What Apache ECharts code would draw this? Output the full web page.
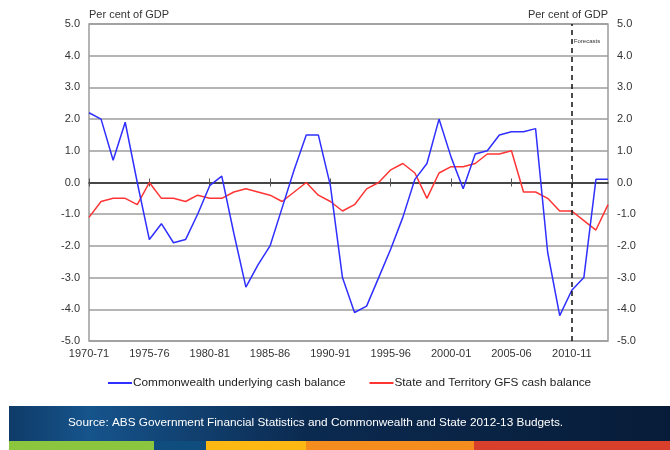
<!DOCTYPE html>
<html>
<head>
<meta charset="utf-8">
<script src="https://cdn.jsdelivr.net/npm/echarts@6/dist/echarts.min.js"></script>
<style>
  html, body { margin: 0; padding: 0; background: #fff; }
  #chart { width: 670px; height: 450px; }
</style>
</head>
<body>
<div id="chart"></div>
<script>
const years = [
  "1970-71", "1971-72", "1972-73", "1973-74", "1974-75", "1975-76", "1976-77", "1977-78", "1978-79", "1979-80",
  "1980-81", "1981-82", "1982-83", "1983-84", "1984-85", "1985-86", "1986-87", "1987-88", "1988-89", "1989-90",
  "1990-91", "1991-92", "1992-93", "1993-94", "1994-95", "1995-96", "1996-97", "1997-98", "1998-99", "1999-00",
  "2000-01", "2001-02", "2002-03", "2003-04", "2004-05", "2005-06", "2006-07", "2007-08", "2008-09", "2009-10",
  "2010-11", "2011-12", "2012-13", "2013-14"
];

const commonwealth = [
  2.2, 2.0, 0.7, 1.9, 0.0, -1.8, -1.3, -1.9, -1.8, -1.0,
  -0.1, 0.2, -1.6, -3.3, -2.6, -2.0, -0.8, 0.4, 1.5, 1.5,
  -0.1, -3.0, -4.1, -3.9, -3.0, -2.1, -1.1, 0.1, 0.6, 2.0,
  0.8, -0.2, 0.9, 1.0, 1.5, 1.6, 1.6, 1.7, -2.2, -4.2,
  -3.4, -3.0, 0.1, 0.1
];

const stateTerritory = [
  -1.1, -0.6, -0.5, -0.5, -0.7, 0.0, -0.5, -0.5, -0.6, -0.4,
  -0.5, -0.5, -0.3, -0.2, -0.3, -0.4, -0.6, -0.3, 0.0, -0.4,
  -0.6, -0.9, -0.7, -0.2, 0.0, 0.4, 0.6, 0.3, -0.5, 0.3,
  0.5, 0.5, 0.6, 0.9, 0.9, 1.0, -0.3, -0.3, -0.5, -0.9,
  -0.9, -1.2, -1.5, -0.7
];

const forecastStart = "2010-11";
const seriesNames = ["Commonwealth underlying cash balance", "State and Territory GFS cash balance"];
const sourceNote = "Source: ABS Government Financial Statistics and Commonwealth and State 2012-13 Budgets.";

const chart = echarts.init(document.getElementById("chart"));
const font = "Liberation Sans, Arial, sans-serif";
const labelColor = "#333";

const hiddenCatAxis = (extra) => Object.assign({
  type: "category",
  data: years,
  boundaryGap: false,
  position: "bottom",
  axisLabel: { show: false },
  splitLine: { show: false }
}, extra);

const valueAxis = (side) => ({
  type: "value",
  position: side,
  min: -5,
  max: 5,
  interval: 1,
  name: "Per cent of GDP",
  nameLocation: "end",
  nameGap: 4,
  nameTextStyle: {
    color: labelColor, fontSize: 11, fontFamily: font,
    align: side === "left" ? "left" : "right"
  },
  axisLine: { show: false },
  axisTick: { show: false },
  axisLabel: {
    color: labelColor, fontSize: 11, fontFamily: font, margin: 9,
    formatter: (v) => v.toFixed(1)
  },
  splitLine: side === "left"
    ? { show: true, lineStyle: { color: "#9c9c9c", width: 1.5 } }
    : { show: false }
});

chart.setOption({
  backgroundColor: "#fff",
  animation: false,
  textStyle: { fontFamily: font },
  grid: {
    left: 89, right: 62, top: 24, bottom: 109,
    show: true, borderColor: "#9c9c9c", borderWidth: 1.5, backgroundColor: "#fff"
  },
  legend: {
    left: 103,
    top: 372,
    itemWidth: 24,
    itemHeight: 2,
    itemGap: 24,
    icon: "rect",
    textStyle: { color: "#222", fontSize: 11.8, fontFamily: font, padding: [0, 0, 0, -4] },
    data: seriesNames
  },
  xAxis: [
    {
      type: "category",
      data: years,
      boundaryGap: false,
      position: "bottom",
      axisLine: { show: false, onZero: false },
      axisTick: { show: false },
      axisLabel: { color: labelColor, fontSize: 11, fontFamily: font, interval: 4, margin: 7 },
      splitLine: { show: false }
    },
    hiddenCatAxis({
      axisLine: { show: true, onZero: true, onZeroAxisIndex: 0, lineStyle: { color: "#222", width: 1.5 } },
      axisTick: { show: true, interval: 4, length: 4, inside: false, lineStyle: { color: "#555" } }
    }),
    hiddenCatAxis({
      axisLine: { show: false, onZero: true, onZeroAxisIndex: 0 },
      axisTick: { show: true, interval: 4, length: 4, inside: true, lineStyle: { color: "#555" } }
    })
  ],
  yAxis: [valueAxis("left"), valueAxis("right")],
  series: [
    {
      name: seriesNames[0],
      type: "line",
      data: commonwealth,
      symbol: "none",
      lineStyle: { color: "#2f2fff", width: 1.5 },
      itemStyle: { color: "#2f2fff" },
      z: 3,
      markLine: {
        silent: true,
        symbol: "none",
        label: { show: false },
        lineStyle: { color: "#111", width: 1.5, type: [5, 4] },
        data: [{ xAxis: forecastStart }]
      },
      markPoint: {
        silent: true,
        symbol: "circle",
        symbolSize: 0,
        label: {
          show: true, position: "right", distance: 2,
          formatter: "Forecasts", fontSize: 6, color: "#333", fontFamily: font
        },
        data: [{ coord: [forecastStart, 4.45] }]
      }
    },
    {
      name: seriesNames[1],
      type: "line",
      data: stateTerritory,
      symbol: "none",
      lineStyle: { color: "#ff3434", width: 1.5 },
      itemStyle: { color: "#ff3434" },
      z: 2
    }
  ],
  graphic: [
    {
      type: "rect",
      shape: { x: 9, y: 406, width: 661, height: 35 },
      style: {
        fill: new echarts.graphic.LinearGradient(0, 0, 1, 0, [
          { offset: 0, color: "#0f3b68" },
          { offset: 0.12, color: "#16548c" },
          { offset: 0.45, color: "#0b2a50" },
          { offset: 1, color: "#071c38" }
        ])
      },
      silent: true
    },
    {
      type: "text",
      left: 68,
      top: 417,
      style: { text: sourceNote, fill: "#fff", fontSize: 11.8, fontFamily: font },
      silent: true
    },
    { type: "rect", shape: { x: 9, y: 441, width: 145, height: 9 }, style: { fill: "#8cc63e" }, silent: true },
    { type: "rect", shape: { x: 154, y: 441, width: 52, height: 9 }, style: { fill: "#0e4d7d" }, silent: true },
    { type: "rect", shape: { x: 206, y: 441, width: 100, height: 9 }, style: { fill: "#fdb813" }, silent: true },
    { type: "rect", shape: { x: 306, y: 441, width: 168, height: 9 }, style: { fill: "#f58c1e" }, silent: true },
    { type: "rect", shape: { x: 474, y: 441, width: 196, height: 9 }, style: { fill: "#d8402b" }, silent: true }
  ]
});
</script>
</body>
</html>
